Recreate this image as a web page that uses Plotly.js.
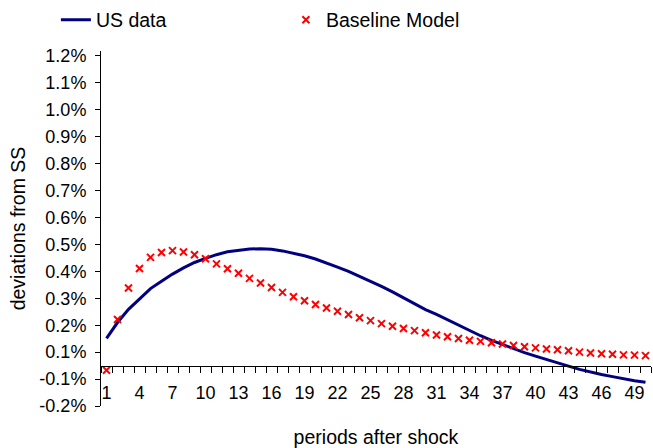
<!DOCTYPE html>
<html>
<head>
<meta charset="utf-8">
<script src="https://cdn.plot.ly/plotly-3.0.1.min.js"></script>
<style>
  html, body { margin: 0; padding: 0; background: #fff; }
  #chart { width: 653px; height: 448px; }
</style>
</head>
<body>
<div id="chart"></div>
<script>
// Impulse responses, in percent deviation from steady state
const periods = [1, 2, 3, 4, 5, 6, 7, 8, 9, 10, 11, 12, 13, 14, 15, 16, 17, 18, 19, 20,
  21, 22, 23, 24, 25, 26, 27, 28, 29, 30, 31, 32, 33, 34, 35, 36, 37, 38, 39, 40,
  41, 42, 43, 44, 45, 46, 47, 48, 49, 50];

const usData = [0.101, 0.160, 0.209, 0.249, 0.286, 0.313, 0.340, 0.363, 0.383, 0.398,
  0.412, 0.423, 0.429, 0.433, 0.434, 0.432, 0.426, 0.418, 0.408, 0.396,
  0.382, 0.366, 0.350, 0.332, 0.313, 0.294, 0.274, 0.252, 0.230, 0.208,
  0.190, 0.170, 0.150, 0.130, 0.111, 0.094, 0.078, 0.062, 0.048, 0.035,
  0.022, 0.010, -0.002, -0.014, -0.024, -0.033, -0.041, -0.049, -0.056, -0.062];

const baselineModel = [-0.017, 0.171, 0.288, 0.361, 0.402, 0.420, 0.427, 0.422, 0.412, 0.397,
  0.378, 0.360, 0.343, 0.324, 0.307, 0.290, 0.272, 0.256, 0.241, 0.227,
  0.214, 0.202, 0.190, 0.178, 0.167, 0.156, 0.146, 0.138, 0.130, 0.122,
  0.114, 0.107, 0.101, 0.094, 0.090, 0.085, 0.080, 0.075, 0.070, 0.066,
  0.062, 0.059, 0.055, 0.050, 0.047, 0.044, 0.042, 0.040, 0.039, 0.037];

const xTickValues = [1, 4, 7, 10, 13, 16, 19, 22, 25, 28, 31, 34, 37, 40, 43, 46, 49];
const xTickLabels = ['1', '4', '7', '10', '13', '16', '19', '22', '25', '28', '31', '34', '37', '40', '43', '46', '49'];

const yTickValues = [-0.15, -0.05, 0.05, 0.15, 0.25, 0.35, 0.45, 0.55, 0.65, 0.75, 0.85, 0.95, 1.05, 1.15];
const yTickLabels = ['-0.2%', '-0.1%', '0.1%', '0.2%', '0.3%', '0.4%', '0.5%', '0.6%', '0.7%', '0.8%', '0.9%', '1.0%', '1.1%', '1.2%'];

const yRange = [-0.15, 1.1685];
const xRange = [periods[0] - 0.5, periods[periods.length - 1] + 0.5];

// tick marks sit between categories on the zero line
const categoryEdges = periods.map(p => p - 0.5).concat([periods[periods.length - 1] + 0.5]);
const zeroPosition = (0 - yRange[0]) / (yRange[1] - yRange[0]);

const FONT = 'Liberation Sans, Arial, Helvetica, sans-serif';

const traces = [
  {
    name: 'US data',
    x: periods,
    y: usData,
    type: 'scatter',
    mode: 'lines',
    line: { color: '#000080', width: 3 },
    xaxis: 'x', yaxis: 'y'
  },
  {
    name: 'Baseline Model',
    x: periods,
    y: baselineModel,
    type: 'scatter',
    mode: 'markers',
    marker: { symbol: 'x-thin-open', size: 7, color: '#ff0000', line: { color: '#ff0000', width: 2 } },
    xaxis: 'x', yaxis: 'y'
  },
  {
    x: [], y: [], type: 'scatter', mode: 'markers',
    xaxis: 'x2', yaxis: 'y', showlegend: false, hoverinfo: 'skip'
  }
];

const layout = {
  width: 653,
  height: 448,
  margin: { l: 101, r: 2, t: 50, b: 42, pad: 0 },
  paper_bgcolor: '#ffffff',
  plot_bgcolor: '#ffffff',
  font: { family: FONT, color: '#000000', size: 18 },
  showlegend: true,
  legend: {
    orientation: 'h',
    x: -0.082, y: 1.084,
    xanchor: 'left', yanchor: 'middle',
    font: { family: FONT, size: 19.5, color: '#000' },
    entrywidth: 185,
    entrywidthmode: 'pixels',
    bgcolor: 'rgba(0,0,0,0)',
    borderwidth: 0
  },
  xaxis: {
    range: xRange,
    anchor: 'free',
    position: 0.073,
    showline: false,
    showgrid: false,
    zeroline: false,
    ticks: '',
    tickmode: 'array',
    tickvals: xTickValues,
    ticktext: xTickLabels,
    tickfont: { family: FONT, size: 18, color: '#000' },
    title: { text: 'periods after shock', font: { family: FONT, size: 19.5, color: '#000' }, standoff: 30 },
    fixedrange: true
  },
  xaxis2: {
    range: xRange,
    overlaying: 'x',
    anchor: 'free',
    position: zeroPosition,
    showline: true,
    linecolor: '#000',
    linewidth: 1,
    ticks: 'outside',
    ticklen: 6,
    tickwidth: 1,
    tickcolor: '#000',
    tickmode: 'array',
    tickvals: categoryEdges,
    showticklabels: false,
    showgrid: false,
    zeroline: false,
    fixedrange: true
  },
  yaxis: {
    range: yRange,
    showline: true,
    linecolor: '#000',
    linewidth: 1,
    ticks: 'outside',
    ticklen: 5,
    tickwidth: 1,
    tickcolor: '#000',
    tickmode: 'array',
    tickvals: yTickValues,
    ticktext: yTickLabels,
    tickfont: { family: FONT, size: 18, color: '#000' },
    ticklabelstandoff: 5,
    showgrid: false,
    zeroline: false,
    title: { text: 'deviations from SS', font: { family: FONT, size: 19.5, color: '#000' }, standoff: 8 },
    fixedrange: true
  }
};

Plotly.newPlot('chart', traces, layout, { displayModeBar: false, staticPlot: true });
</script>
</body>
</html>
